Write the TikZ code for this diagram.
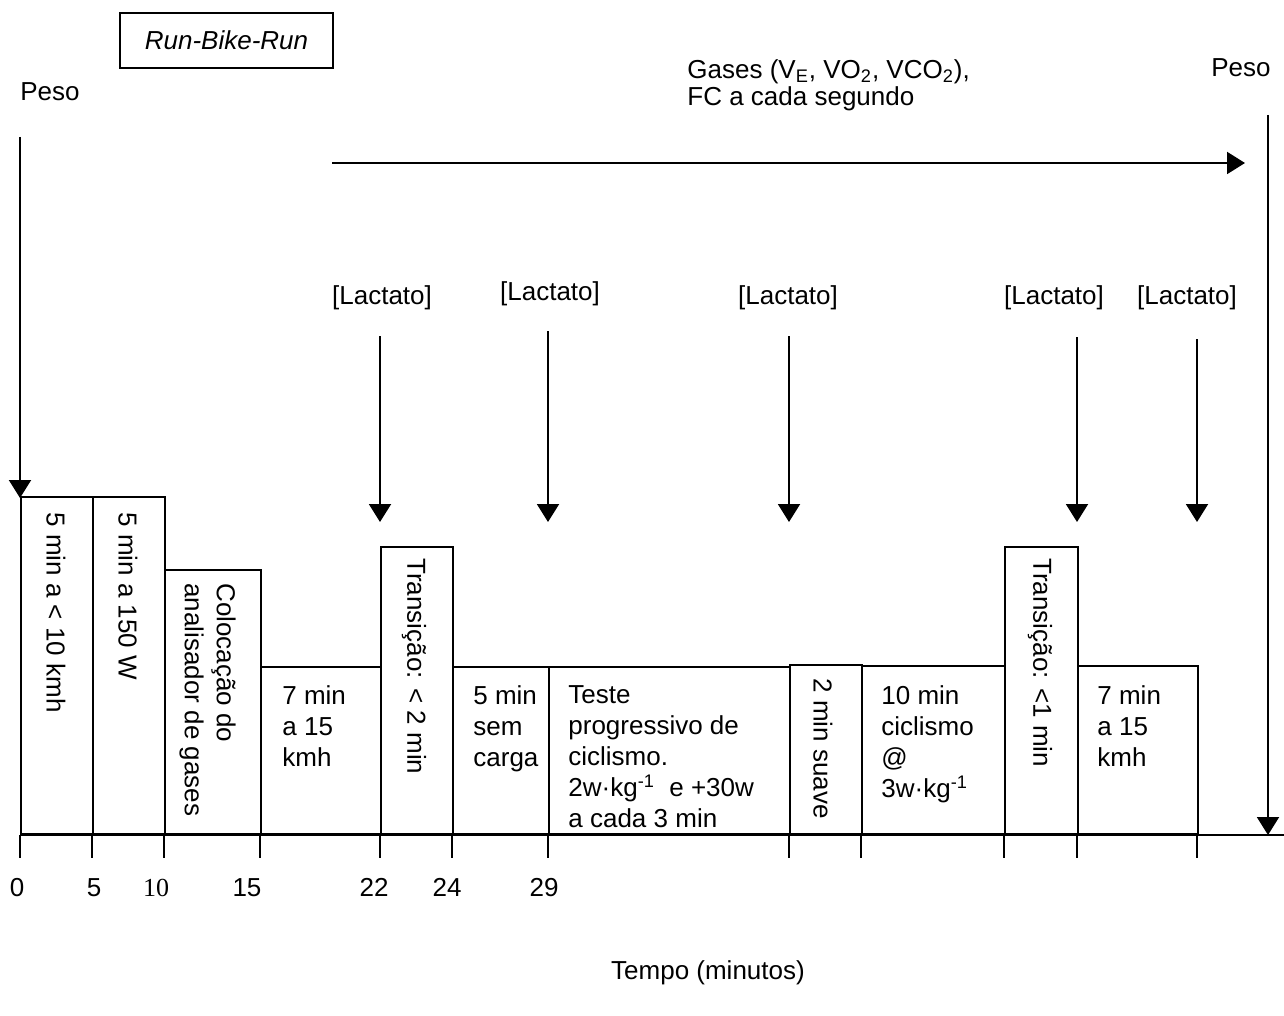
\documentclass[tikz,border=0pt]{standalone}
\usepackage{fontspec}
\setmainfont{Liberation Sans}
\newfontfamily\tnr{Liberation Serif}
\usetikzlibrary{arrows.meta}
\begin{document}
\begin{tikzpicture}[x=0.5pt,y=-0.5pt,
  every node/.style={font=\fontsize{13}{15.5}\selectfont, inner sep=0pt},
  seg/.style={draw, line width=1pt, anchor=south west, inner sep=0pt},
  ln/.style={line width=1pt},
  arr/.style={line width=1pt, -{Triangle[width=11pt,length=9pt]}},
  vtext/.style={rotate=-90, anchor=west},
  htext/.style={anchor=north west, align=left},
]
\useasboundingbox (0,0) rectangle (1284,1016);

% title box
\node[draw, line width=0.8pt, minimum width=106.5pt, minimum height=27.5pt,
      font=\fontsize{13}{15.5}\selectfont\itshape] (title) at (226.5,40.5) {Run-Bike-Run};

% top labels
\node (pesoL) at (50,92) {Peso};
\node (pesoR) at (1241,68) {Peso};
\node[anchor=north west, align=left, font=\fontsize{13}{13.5}\selectfont] (gases) at (687,59)
  {Gases (V\textsubscript{E}, VO\textsubscript{2}, VCO\textsubscript{2}),\\FC a cada segundo};

% coordinates for arrows
\coordinate (pLs) at (20,137);
\coordinate (pLe) at (20,498);
\coordinate (pRs) at (1268,115);
\coordinate (pRe) at (1268,835);
\coordinate (gs) at (332,163);
\coordinate (ge) at (1245,163);

\draw[arr] (pLs) -- (pLe);
\draw[arr] (pRs) -- (pRe);
\draw[arr] (gs) -- (ge);

% lactato labels and arrows
\node (lac1) at (382,298) {[Lactato]};
\node (lac2) at (550,294) {[Lactato]};
\node (lac3) at (788,298) {[Lactato]};
\node (lac4) at (1054,298) {[Lactato]};
\node (lac5) at (1187,298) {[Lactato]};
\coordinate (a1s) at (380,336);  \coordinate (a1e) at (380,522);
\coordinate (a2s) at (548,331);  \coordinate (a2e) at (548,522);
\coordinate (a3s) at (789,336);  \coordinate (a3e) at (789,522);
\coordinate (a4s) at (1077,337); \coordinate (a4e) at (1077,522);
\coordinate (a5s) at (1197,339); \coordinate (a5e) at (1197,522);
\draw[arr] (a1s) -- (a1e);
\draw[arr] (a2s) -- (a2e);
\draw[arr] (a3s) -- (a3e);
\draw[arr] (a4s) -- (a4e);
\draw[arr] (a5s) -- (a5e);

% segment boxes
\node[seg, minimum width=36pt,   minimum height=168.5pt] (b1)  at (20,835)  {};
\node[seg, minimum width=36pt,   minimum height=168.5pt] (b2)  at (92,835)  {};
\node[seg, minimum width=48pt,   minimum height=132pt]   (b3)  at (164,835) {};
\node[seg, minimum width=60pt,   minimum height=83.5pt]  (b4)  at (260,835) {};
\node[seg, minimum width=36pt,   minimum height=143.5pt] (b5)  at (380,835) {};
\node[seg, minimum width=48pt,   minimum height=83.5pt]  (b6)  at (452,835) {};
\node[seg, minimum width=120.5pt,minimum height=83.5pt]  (b7)  at (548,835) {};
\node[seg, minimum width=36pt,   minimum height=84.5pt]  (b8)  at (789,835) {};
\node[seg, minimum width=71.5pt, minimum height=84pt]    (b9)  at (861,835) {};
\node[seg, minimum width=36.5pt, minimum height=143.5pt] (b10) at (1004,835) {};
\node[seg, minimum width=60pt,   minimum height=84pt]    (b11) at (1077,835) {};

% box texts
\node[vtext] (t1) at (56,512) {5 min a < 10 kmh};
\node[vtext] (t2) at (128,512) {5 min a 150 W};
\node[rotate=-90, anchor=north west, align=left, font=\fontsize{13}{16}\selectfont] (t3) at (236,583)
  {Colocação do\\analisador de gases};
\node[htext] (t4) at (282,685) {7 min\\a 15\\kmh};
\node[vtext] (t5) at (414,558) {Transição: < 2 min};
\node[htext] (t6) at (473,685) {5 min\\sem\\carga};
\node[htext] (t7) at (568,685) {Teste\\progressivo de\\ciclismo.\\2w·kg\textsuperscript{-1}~ e +30w\\a cada 3 min};
\node[vtext] (t8) at (823,678) {2 min suave};
\node[htext] (t9) at (881,685) {10 min\\ciclismo\\@\\3w·kg\textsuperscript{-1}};
\node[vtext] (t10) at (1040,558) {Transição: <1 min};
\node[htext] (t11) at (1097,685) {7 min\\a 15\\kmh};

% axis
\coordinate (ax0) at (20,835);
\coordinate (ax1) at (1284,835);
\draw[line width=1.2pt] (ax0) -- (ax1);
\foreach \x in {20,92,164,260,380,452,548,789,861,1004,1077,1197}
  \draw[ln] (\x,835) -- (\x,858);

% tick labels
\node[anchor=base] (n0)  at (17,896)  {0};
\node[anchor=base] (n5)  at (94,896)  {5};
\node[anchor=base, font=\fontsize{13}{15.5}\selectfont\tnr] (n10) at (156,896) {10};
\node[anchor=base] (n15) at (247,896) {15};
\node[anchor=base] (n22) at (374,896) {22};
\node[anchor=base] (n24) at (447,896) {24};
\node[anchor=base] (n29) at (544,896) {29};

\node (tempo) at (708,973) {Tempo (minutos)};
\end{tikzpicture}
\end{document}
